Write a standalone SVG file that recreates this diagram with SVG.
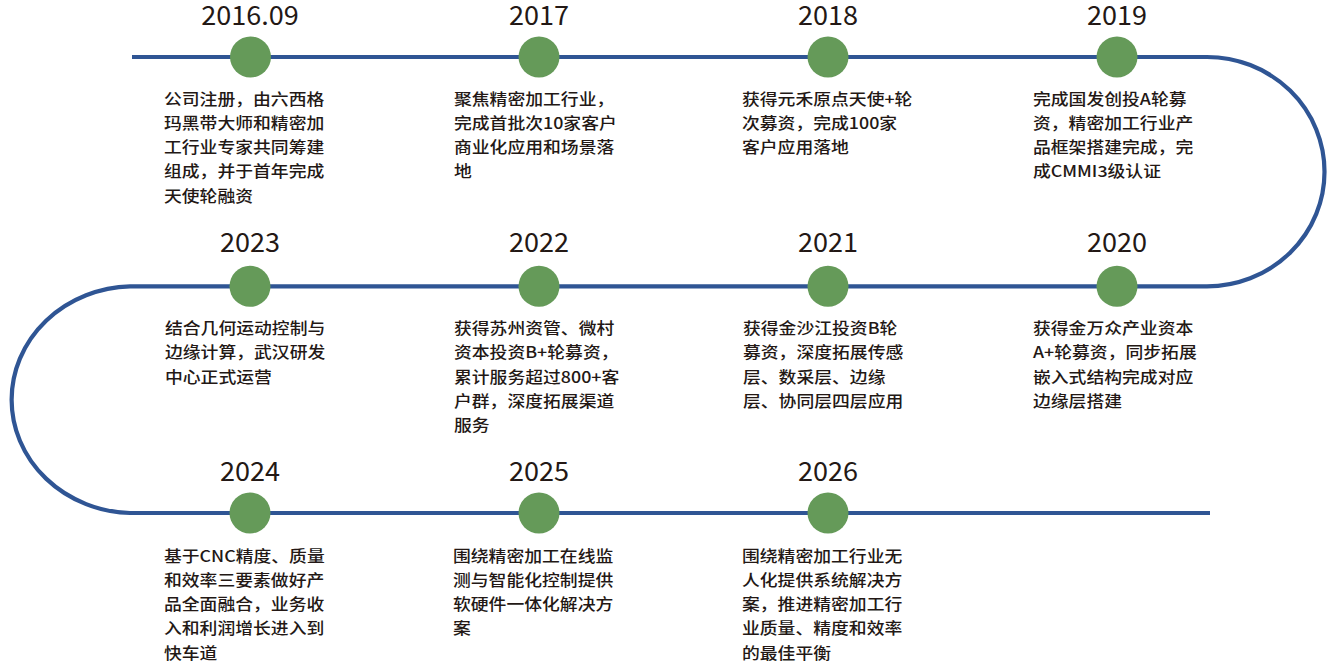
<svg xmlns="http://www.w3.org/2000/svg" width="1333" height="664" viewBox="0 0 1333 664">
<style>
.line{fill:none;stroke:#2f5594;stroke-width:4.2}
.dot{fill:#659a59}
.yr{font-family:"Noto Sans CJK SC","Noto Sans",sans-serif;font-size:26px;fill:#231815;text-anchor:middle}
.desc{font-family:"Noto Sans CJK SC","Noto Sans",sans-serif;font-size:15.5px;font-weight:500;fill:#231815}
</style>
<rect width="1333" height="664" fill="#ffffff"/>
<g id="connectors">
<path class="line" d="M132,57 H1207 A117.5,114.6 0 0 1 1207,286.3 H130 A122,113.4 0 0 0 130,513 H1210"/>
</g>
<g id="n2016">
<circle class="dot" cx="250.5" cy="57" r="20.5"/>
<text class="yr" transform="translate(250,24.5) scale(1.04,1)">2016.09</text>
<text class="desc" transform="translate(164,104.5) scale(1.15,1)"><tspan x="0" y="0">公司注册，由六西格</tspan><tspan x="0" y="24.3">玛黑带大师和精密加</tspan><tspan x="0" y="48.6">工行业专家共同筹建</tspan><tspan x="0" y="72.9">组成，并于首年完成</tspan><tspan x="0" y="97.2">天使轮融资</tspan></text>
</g>
<g id="n2017">
<circle class="dot" cx="539" cy="57" r="20.5"/>
<text class="yr" transform="translate(539,24.5) scale(1.04,1)">2017</text>
<text class="desc" transform="translate(454,104.5) scale(1.15,1)"><tspan x="0" y="0">聚焦精密加工行业，</tspan><tspan x="0" y="24.3">完成首批次10家客户</tspan><tspan x="0" y="48.6">商业化应用和场景落</tspan><tspan x="0" y="72.9">地</tspan></text>
</g>
<g id="n2018">
<circle class="dot" cx="828" cy="57" r="20.5"/>
<text class="yr" transform="translate(828,24.5) scale(1.04,1)">2018</text>
<text class="desc" transform="translate(742,104.5) scale(1.15,1)"><tspan x="0" y="0">获得元禾原点天使+轮</tspan><tspan x="0" y="24.3">次募资，完成100家</tspan><tspan x="0" y="48.6">客户应用落地</tspan></text>
</g>
<g id="n2019">
<circle class="dot" cx="1117" cy="57" r="20.5"/>
<text class="yr" transform="translate(1117,24.5) scale(1.04,1)">2019</text>
<text class="desc" transform="translate(1033,104.5) scale(1.15,1)"><tspan x="0" y="0">完成国发创投A轮募</tspan><tspan x="0" y="24.3">资，精密加工行业产</tspan><tspan x="0" y="48.6">品框架搭建完成，完</tspan><tspan x="0" y="72.9">成CMMI3级认证</tspan></text>
</g>
<g id="n2020">
<circle class="dot" cx="1117" cy="286.3" r="20.5"/>
<text class="yr" transform="translate(1117,252) scale(1.04,1)">2020</text>
<text class="desc" transform="translate(1033,334) scale(1.15,1)"><tspan x="0" y="0">获得金万众产业资本</tspan><tspan x="0" y="24.3">A+轮募资，同步拓展</tspan><tspan x="0" y="48.6">嵌入式结构完成对应</tspan><tspan x="0" y="72.9">边缘层搭建</tspan></text>
</g>
<g id="n2021">
<circle class="dot" cx="828" cy="286.3" r="20.5"/>
<text class="yr" transform="translate(828,252) scale(1.04,1)">2021</text>
<text class="desc" transform="translate(743,334) scale(1.15,1)"><tspan x="0" y="0">获得金沙江投资B轮</tspan><tspan x="0" y="24.3">募资，深度拓展传感</tspan><tspan x="0" y="48.6">层、数采层、边缘</tspan><tspan x="0" y="72.9">层、协同层四层应用</tspan></text>
</g>
<g id="n2022">
<circle class="dot" cx="539" cy="286.3" r="20.5"/>
<text class="yr" transform="translate(539,252) scale(1.04,1)">2022</text>
<text class="desc" transform="translate(454,334) scale(1.15,1)"><tspan x="0" y="0">获得苏州资管、微村</tspan><tspan x="0" y="24.3">资本投资B+轮募资，</tspan><tspan x="0" y="48.6">累计服务超过800+客</tspan><tspan x="0" y="72.9">户群，深度拓展渠道</tspan><tspan x="0" y="97.2">服务</tspan></text>
</g>
<g id="n2023">
<circle class="dot" cx="250" cy="286.3" r="20.5"/>
<text class="yr" transform="translate(250,252) scale(1.04,1)">2023</text>
<text class="desc" transform="translate(165,334) scale(1.15,1)"><tspan x="0" y="0">结合几何运动控制与</tspan><tspan x="0" y="24.3">边缘计算，武汉研发</tspan><tspan x="0" y="48.6">中心正式运营</tspan></text>
</g>
<g id="n2024">
<circle class="dot" cx="250" cy="513" r="20.5"/>
<text class="yr" transform="translate(250,481) scale(1.04,1)">2024</text>
<text class="desc" transform="translate(164,561.5) scale(1.15,1)"><tspan x="0" y="0">基于CNC精度、质量</tspan><tspan x="0" y="24.3">和效率三要素做好产</tspan><tspan x="0" y="48.6">品全面融合，业务收</tspan><tspan x="0" y="72.9">入和利润增长进入到</tspan><tspan x="0" y="97.2">快车道</tspan></text>
</g>
<g id="n2025">
<circle class="dot" cx="539" cy="513" r="20.5"/>
<text class="yr" transform="translate(539,481) scale(1.04,1)">2025</text>
<text class="desc" transform="translate(453,561.5) scale(1.15,1)"><tspan x="0" y="0">围绕精密加工在线监</tspan><tspan x="0" y="24.3">测与智能化控制提供</tspan><tspan x="0" y="48.6">软硬件一体化解决方</tspan><tspan x="0" y="72.9">案</tspan></text>
</g>
<g id="n2026">
<circle class="dot" cx="828" cy="513" r="20.5"/>
<text class="yr" transform="translate(828,481) scale(1.04,1)">2026</text>
<text class="desc" transform="translate(742,561.5) scale(1.15,1)"><tspan x="0" y="0">围绕精密加工行业无</tspan><tspan x="0" y="24.3">人化提供系统解决方</tspan><tspan x="0" y="48.6">案，推进精密加工行</tspan><tspan x="0" y="72.9">业质量、精度和效率</tspan><tspan x="0" y="97.2">的最佳平衡</tspan></text>
</g>
</svg>
